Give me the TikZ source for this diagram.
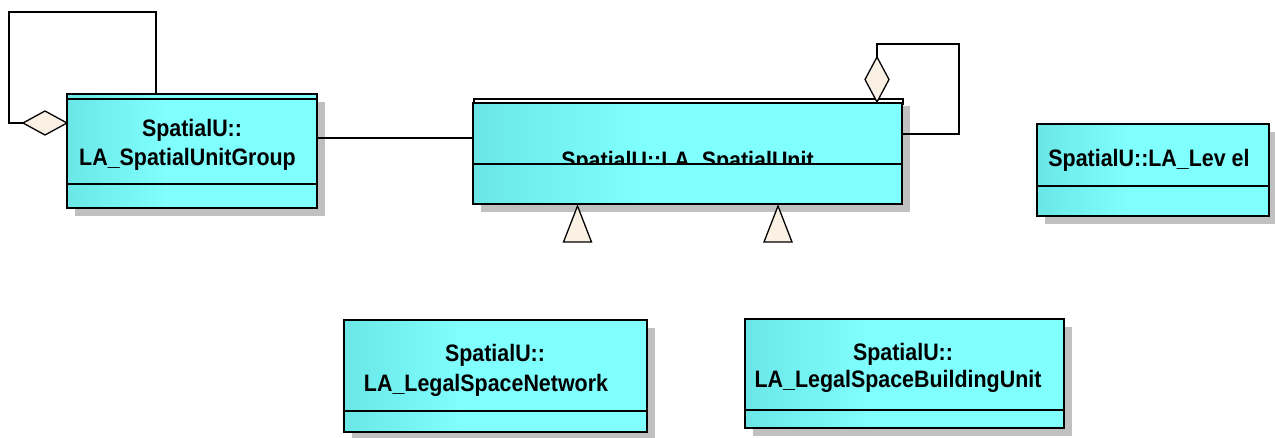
\documentclass[tikz,border=0pt]{standalone}
\usepackage{fontspec}
\newfontfamily\umlfont{Liberation Sans}[FakeStretch=0.9]
\usetikzlibrary{shapes.geometric,calc}

\definecolor{cyanL}{RGB}{106,230,230}
\definecolor{cyanR}{RGB}{128,255,255}
\definecolor{shadowgray}{RGB}{192,192,192}
\definecolor{headfill}{RGB}{250,240,228}

% left-to-right fill of the class boxes
\pgfdeclarehorizontalshading{umlfill}{100bp}{color(0bp)=(cyanL); color(25bp)=(cyanL); color(45bp)=(cyanR); color(100bp)=(cyanR)}

\tikzset{
  classbox/.style={draw=black, line width=2pt, shade, shading=umlfill,
    anchor=north west, inner sep=0pt, outer sep=0pt},
  divider/.style={draw=black, line width=2pt},
  boxshadow/.style={fill=shadowgray},
  classname/.style={anchor=base, inner sep=0pt,
    font=\umlfont\bfseries\fontsize{23.8}{29}\selectfont},
  assoc/.style={draw=black, line width=1.3pt},
  aggdiamond/.style={diamond, draw=black, line width=1.3pt, fill=headfill,
    inner sep=0pt, outer sep=0pt},
  genhead/.style={draw=black, line width=1.3pt, fill=headfill, line join=miter},
}

% class box: name, x1, y1, x2, y2, y of the compartment line
\newcommand\umlclass[6]{%
  \fill[boxshadow] (#2+8,#3+8) rectangle (#4+8,#5+8);
  \node[classbox, minimum width=#4-#2, minimum height=#5-#3] (#1) at (#2,#3) {};
  \draw[divider] ($(#1.north west)+(0,#6-#3)$) -- ($(#1.north east)+(0,#6-#3)$);
}

\begin{document}
\begin{tikzpicture}[x=1pt, y=-1pt]
\useasboundingbox (0,0) rectangle (1275,437);

% ---- classes ----
\umlclass{sug}{67}{94}{317}{208}{184}
\draw[divider] ($(sug.north west)+(0,5)$) -- ($(sug.north east)+(0,5)$);
\node[classname] (sugA) at (192,136) {SpatialU::};
\node[classname] (sugB) at (187.5,165) {LA\_SpatialUnitGroup};

\fill[boxshadow] (481,106) rectangle (910,212);
\node[draw=black, line width=2pt, fill=white, anchor=north west, inner sep=0pt,
  minimum width=429, minimum height=5] (sutop) at (473,98) {};
\node[classbox, minimum width=429, minimum height=101] (su) at (473,103) {};
\begin{scope}
  \clip (473,103) rectangle (902,164);
  \node[classname] (suA) at (687.5,168) {SpatialU::LA\_SpatialUnit};
\end{scope}
\draw[divider] ($(su.north west)+(0,61)$) -- ($(su.north east)+(0,61)$);

\umlclass{lev}{1037}{124}{1269}{216}{186}
\node[classname] (levA) at (1149,166) {SpatialU::LA\_Lev el};

\umlclass{lsn}{344}{320}{647}{432}{411}
\node[classname] (lsnA) at (495,361.5) {SpatialU::};
\node[classname] (lsnB) at (486,391) {LA\_LegalSpaceNetwork};

\umlclass{lsb}{745}{319}{1064}{428}{410}
\node[classname] (lsbA) at (903,360) {SpatialU::};
\node[classname] (lsbB) at (898,387.5) {LA\_LegalSpaceBuildingUnit};

% ---- association between the group and the unit ----
\coordinate (rowA) at (0,138);
\draw[assoc] (sug.east |- rowA) -- (su.west |- rowA);

% ---- self aggregation on the group ----
\node[aggdiamond, minimum width=44, minimum height=24] (dg) at (45,123) {};
\coordinate (loopG) at (9,12);
\coordinate (gTop) at (156,94);
\draw[assoc] (dg.west) -| (loopG) -| (gTop);

% ---- self aggregation on the unit ----
\node[aggdiamond, minimum width=24, minimum height=45] (du) at (877,79.5) {};
\coordinate (loopU) at (959,44);
\coordinate (rowB) at (0,134);
\draw[assoc] (du.north) |- (loopU) |- (su.east |- rowB);

% ---- generalisation heads below the unit ----
\coordinate (g1) at (577.5,206);
\coordinate (g2) at (778,206);
\draw[genhead] (g1) -- ++(14,36) -- ++(-28,0) -- cycle;
\draw[genhead] (g2) -- ++(14,36) -- ++(-28,0) -- cycle;

\end{tikzpicture}
\end{document}
